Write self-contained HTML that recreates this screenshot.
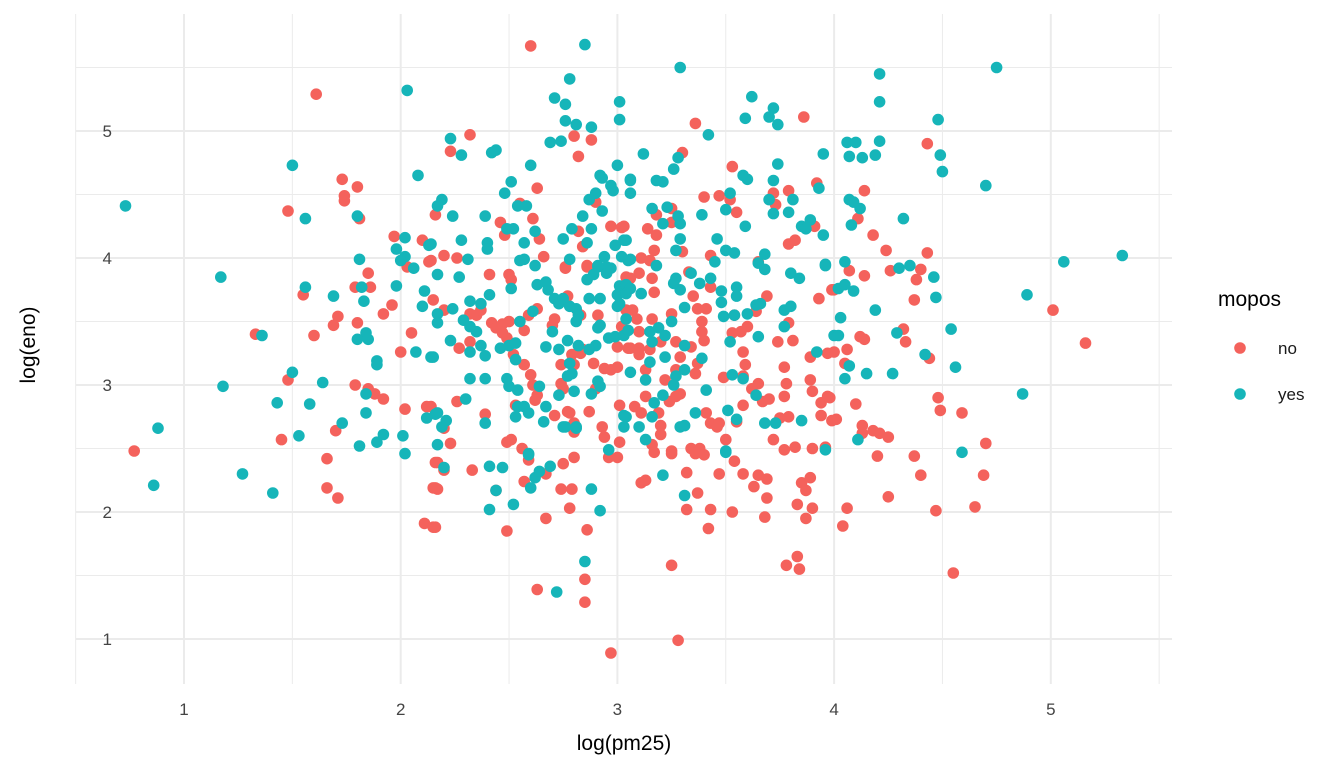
<!DOCTYPE html>
<html><head><meta charset="utf-8"><style>
html,body{margin:0;padding:0;background:#fff;}
svg{display:block;font-family:"Liberation Sans",Arial,sans-serif;}
</style></head><body>
<svg id="chart" width="1344" height="768" viewBox="0 0 1344 768" xmlns="http://www.w3.org/2000/svg">
<g id="grid"></g>
<g id="points"></g>
<g id="axes"></g>
<text x="624" y="750" font-size="21" text-anchor="middle" fill="#000">log(pm25)</text>
<text x="0" y="0" font-size="21" text-anchor="middle" fill="#000" transform="translate(35,345) rotate(-90)">log(eno)</text>
<g>
<text x="1218" y="306" font-size="21" fill="#000">mopos</text>
<circle cx="1240" cy="348" r="5.8" fill="#F4625C"/>
<text x="1278" y="354" font-size="17" fill="#1a1a1a">no</text>
<circle cx="1240" cy="394" r="5.8" fill="#16B5B9"/>
<text x="1278" y="400" font-size="17" fill="#1a1a1a">yes</text>
</g>
</svg>
<script>
const xTicks = [1,2,3,4,5];
const yTicks = [1,2,3,4,5];
const xTickLabels = ["1","2","3","4","5"];
const yTickLabels = ["1","2","3","4","5"];
const noX = [1.61,1.73,1.80,1.74,1.74,1.48,1.81,1.97,2.03,2.10,2.13,1.85,1.79,1.86,1.55,1.96,1.92,1.71,1.69,1.80,1.33,1.60,2.05,2.00,1.48,1.79,1.85,1.88,1.92,2.02,2.12,1.70,0.77,1.45,2.16,2.16,1.66,1.66,1.71,2.11,2.15,
2.60,2.80,2.88,2.82,2.32,2.23,2.63,2.16,2.55,2.90,2.61,2.46,2.48,2.64,2.20,2.26,2.14,2.66,2.82,2.84,2.97,3.02,2.76,2.86,
2.41,2.50,2.51,2.15,2.20,2.32,2.35,2.37,2.42,2.44,2.47,2.49,2.50,2.47,2.57,2.59,2.63,2.32,2.27,2.52,2.57,2.60,2.61,2.63,2.62,2.26,2.14,2.20,2.23,2.39,2.53,2.49,2.51,2.56,2.77,2.71,2.70,2.82,2.83,2.84,2.83,2.79,2.80,2.74,2.74,2.75,2.77,2.78,2.71,2.80,2.86,2.76,3.04,2.91,3.04,3.02,3.00,3.05,2.89,2.94,2.97,3.00,2.90,3.01,2.87,2.93,2.94,3.01,2.80,
2.17,2.20,2.15,2.17,2.33,2.44,2.16,2.49,2.57,2.67,2.59,2.75,2.80,2.74,2.79,2.78,2.67,2.86,2.96,3.00,2.85,2.85,2.63,2.97,
3.86,3.36,3.30,3.53,3.79,3.92,3.40,3.47,3.52,3.55,3.72,3.73,3.91,3.79,3.82,3.18,3.25,3.25,3.14,3.18,3.30,3.17,3.43,3.65,3.11,3.15,3.03,
3.10,3.16,3.06,3.17,3.33,3.43,3.35,3.37,3.41,3.07,3.09,3.16,3.25,3.39,3.39,3.40,3.64,3.69,3.54,3.60,3.57,3.53,3.10,3.20,3.27,3.10,3.06,3.15,3.10,3.29,3.34,3.37,3.36,3.13,3.22,3.27,3.58,3.59,3.58,3.49,3.74,3.81,3.77,3.78,3.79,3.93,3.99,3.89,3.97,3.89,3.90,3.94,3.97,3.94,3.99,3.62,3.65,3.67,3.70,3.77,3.58,3.29,3.27,3.24,3.13,3.08,3.11,3.19,3.20,3.20,3.41,3.43,3.47,3.46,3.55,3.75,3.79,3.50,3.72,3.16,3.25,3.34,3.38,3.77,3.82,3.90,3.96,
3.17,3.25,3.36,3.40,3.54,3.11,3.13,3.32,3.47,3.58,3.65,3.69,3.63,3.37,3.32,3.43,3.53,3.69,3.68,3.85,3.87,3.89,3.83,3.90,3.87,3.42,3.25,3.78,3.83,3.84,3.28,
4.43,4.14,4.11,4.18,4.24,4.43,4.07,4.14,4.26,4.40,4.38,4.00,4.37,5.01,4.12,4.14,4.32,4.33,5.16,4.00,4.06,4.44,
4.05,3.98,4.10,4.01,4.48,4.49,4.59,4.13,4.13,4.18,4.21,4.25,4.70,4.20,4.37,4.40,4.69,4.25,4.06,4.04,4.47,4.65,4.55];
const noY = [5.29,4.62,4.56,4.49,4.45,4.37,4.31,4.17,3.93,4.14,3.97,3.88,3.77,3.77,3.71,3.63,3.56,3.54,3.47,3.49,3.40,3.39,3.41,3.26,3.04,3.00,2.97,2.93,2.89,2.81,2.83,2.64,2.48,2.57,2.39,2.19,2.42,2.19,2.11,1.91,1.88,
5.67,4.96,4.93,4.80,4.97,4.84,4.55,4.34,4.43,4.44,4.31,4.28,4.18,4.15,4.02,4.00,3.98,4.01,4.21,4.09,4.25,4.24,3.93,3.94,
3.87,3.87,3.83,3.67,3.59,3.56,3.55,3.59,3.49,3.45,3.41,3.37,3.50,3.48,3.43,3.55,3.60,3.34,3.29,3.24,3.16,3.08,3.00,2.92,2.88,2.87,2.83,2.66,2.54,2.77,2.84,2.55,2.57,2.50,3.70,3.52,3.47,3.56,3.55,3.28,3.25,3.24,3.16,3.16,3.01,2.97,2.79,2.78,2.76,2.70,3.93,3.92,3.85,3.55,3.59,3.46,3.30,3.29,3.17,3.13,3.12,3.14,2.97,2.84,2.79,2.67,2.59,2.55,2.63,
2.39,2.33,2.19,2.18,2.33,2.17,1.88,1.85,2.24,2.30,2.41,2.38,2.43,2.18,2.18,2.03,1.95,1.86,2.43,2.43,1.47,1.29,1.39,0.89,
5.11,5.06,4.83,4.72,4.53,4.59,4.48,4.49,4.46,4.36,4.51,4.42,4.25,4.11,4.14,4.34,4.39,4.28,4.23,4.18,4.05,4.06,4.02,3.97,4.00,3.98,4.25,
3.88,3.84,3.84,3.73,3.89,3.77,3.70,3.60,3.60,3.59,3.52,3.52,3.56,3.50,3.42,3.35,3.58,3.70,3.55,3.46,3.42,3.41,3.42,3.34,3.34,3.29,3.29,3.28,3.24,3.22,3.30,3.17,3.09,3.12,3.04,3.12,3.26,3.16,3.07,3.06,3.34,3.35,3.14,3.01,3.49,3.68,3.75,3.22,3.25,3.04,2.95,2.86,2.91,2.76,2.72,2.97,3.01,2.87,2.89,2.91,2.84,2.93,2.91,2.87,2.91,2.83,2.78,2.78,2.68,2.61,2.78,2.70,2.70,2.67,2.71,2.74,2.75,2.57,2.57,2.53,2.48,2.50,2.50,2.49,2.51,2.50,2.51,
2.47,2.46,2.46,2.45,2.40,2.23,2.25,2.31,2.30,2.30,2.29,2.26,2.20,2.15,2.02,2.02,2.00,2.11,1.96,2.23,2.17,2.27,2.06,2.03,1.95,1.87,1.58,1.58,1.65,1.55,0.99,
4.90,4.53,4.31,4.18,4.06,4.04,3.90,3.86,3.90,3.91,3.83,3.75,3.67,3.59,3.38,3.36,3.44,3.34,3.33,3.26,3.28,3.21,
3.17,2.90,2.85,2.73,2.90,2.80,2.78,2.68,2.62,2.64,2.62,2.59,2.54,2.44,2.44,2.29,2.29,2.12,2.03,1.89,2.01,2.04,1.52];
const yesX = [0.73,2.03,1.50,2.08,1.56,1.80,2.02,1.98,2.02,2.00,2.06,2.13,1.81,1.17,1.82,1.98,2.11,1.56,1.69,1.83,2.10,1.36,1.84,1.80,1.85,2.07,2.14,1.89,1.89,1.50,1.18,1.64,1.84,2.12,2.16,1.43,1.58,1.84,1.73,0.88,0.86,1.53,1.92,1.89,1.81,2.01,2.02,1.27,1.41,
2.85,2.78,2.71,2.76,3.01,3.01,2.76,2.81,2.88,2.69,2.74,2.23,2.28,2.42,2.44,2.60,3.00,2.92,2.93,2.97,2.98,3.06,3.06,2.51,2.48,2.19,2.17,2.24,2.39,2.58,2.54,2.90,2.87,2.93,2.84,2.49,2.52,2.62,2.57,2.28,2.40,2.40,2.14,2.31,2.55,2.57,2.62,2.75,2.79,2.88,2.86,2.99,3.04,2.78,2.94,3.02,3.05,2.91,2.95,
2.17,2.27,2.51,2.41,2.32,2.37,2.24,2.17,2.17,2.29,2.32,2.35,2.55,2.61,2.23,2.32,2.37,2.39,2.46,2.50,2.53,2.53,2.15,2.32,2.39,2.49,2.50,2.54,2.64,2.30,2.17,2.21,2.19,2.17,2.39,2.54,2.57,2.53,2.59,2.67,2.66,2.59,2.63,2.67,2.68,2.71,2.73,2.75,2.78,2.81,2.82,2.81,2.70,2.67,2.73,2.77,2.82,2.78,2.79,2.77,2.73,2.80,2.76,2.81,2.86,2.89,2.91,2.95,2.97,3.01,3.04,2.87,2.92,3.00,3.01,3.00,2.92,2.91,3.04,2.96,2.99,3.03,2.90,2.87,2.91,2.92,2.88,3.03,3.03,2.81,2.75,2.96,
2.20,2.41,2.47,2.44,2.41,2.52,2.60,2.62,2.64,2.69,2.59,2.88,2.92,2.85,2.72,
3.29,3.62,3.72,3.70,3.74,3.59,3.42,3.12,3.28,3.26,3.06,3.18,3.21,3.58,3.60,3.72,3.93,3.95,3.74,3.52,3.50,3.39,3.70,3.72,3.81,3.79,3.85,3.89,3.87,3.95,3.59,3.16,3.23,3.21,3.28,3.29,3.29,3.27,3.46,3.50,3.54,3.45,3.68,3.96,3.06,3.03,3.18,
3.06,3.11,3.04,3.27,3.29,3.26,3.34,3.38,3.43,3.48,3.48,3.55,3.55,3.31,3.25,3.49,3.54,3.60,3.64,3.66,3.52,3.65,3.05,3.15,3.19,3.22,3.16,3.31,3.22,3.15,3.39,3.31,3.06,3.13,3.27,3.26,3.53,3.58,3.77,3.77,3.80,3.96,3.80,3.84,3.68,3.65,3.92,4.00,3.64,3.41,3.21,3.17,3.04,3.16,3.36,3.29,3.31,3.10,3.13,3.51,3.55,3.68,3.73,3.85,3.50,
3.50,3.21,3.31,3.96,
4.21,4.21,4.75,4.48,4.06,4.10,4.21,4.07,4.13,4.19,4.49,4.50,4.70,4.07,4.09,4.12,4.08,4.32,5.06,5.33,4.05,4.30,4.35,4.46,4.47,4.02,4.05,4.09,4.19,4.89,4.03,4.02,4.29,4.54,4.42,4.07,4.15,4.27,4.05,4.56,4.87,4.11,4.59];
const yesY = [4.41,5.32,4.73,4.65,4.31,4.33,4.16,4.07,4.01,3.98,3.92,4.10,3.99,3.85,3.77,3.78,3.74,3.77,3.70,3.66,3.62,3.39,3.41,3.36,3.36,3.26,3.22,3.19,3.16,3.10,2.99,3.02,2.93,2.74,2.77,2.86,2.85,2.78,2.70,2.66,2.21,2.60,2.61,2.55,2.52,2.60,2.46,2.30,2.15,
5.68,5.41,5.26,5.21,5.23,5.09,5.08,5.05,5.03,4.91,4.92,4.94,4.81,4.83,4.85,4.73,4.73,4.65,4.63,4.57,4.53,4.62,4.51,4.60,4.51,4.46,4.41,4.33,4.33,4.41,4.41,4.51,4.46,4.37,4.33,4.23,4.23,4.21,4.12,4.14,4.12,4.07,4.11,3.99,3.98,3.99,3.94,4.15,4.23,4.23,4.12,4.10,4.14,3.99,4.01,4.01,3.98,3.94,3.93,
3.87,3.85,3.76,3.71,3.66,3.64,3.60,3.56,3.49,3.51,3.46,3.42,3.50,3.58,3.35,3.26,3.31,3.23,3.29,3.31,3.33,3.20,3.22,3.05,3.05,3.05,2.99,2.96,2.99,2.89,2.78,2.72,2.67,2.53,2.70,2.83,2.83,2.75,2.78,2.83,2.71,2.46,3.79,3.81,3.75,3.68,3.64,3.68,3.62,3.60,3.55,3.50,3.42,3.30,3.28,3.35,3.31,3.17,3.09,3.07,2.92,2.95,2.67,2.67,3.83,3.87,3.93,3.88,3.92,3.78,3.79,3.68,3.68,3.71,3.64,3.62,3.47,3.45,3.52,3.37,3.38,3.39,3.31,3.28,3.03,2.99,2.93,2.76,2.67,2.66,2.67,2.49,
2.35,2.36,2.35,2.17,2.02,2.06,2.19,2.27,2.32,2.36,2.45,2.18,2.01,1.61,1.37,
5.50,5.27,5.18,5.11,5.05,5.10,4.97,4.82,4.79,4.70,4.61,4.61,4.60,4.65,4.62,4.61,4.55,4.82,4.74,4.51,4.38,4.34,4.46,4.35,4.46,4.36,4.25,4.30,4.23,4.18,4.25,4.39,4.40,4.27,4.33,4.27,4.15,4.06,4.15,4.06,4.04,3.97,4.03,3.95,3.99,4.14,3.94,
3.76,3.72,3.72,3.84,3.75,3.80,3.88,3.80,3.84,3.74,3.65,3.77,3.70,3.61,3.50,3.54,3.55,3.56,3.63,3.64,3.34,3.38,3.43,3.42,3.45,3.39,3.34,3.31,3.22,3.18,3.21,3.12,3.10,3.04,3.07,3.00,3.08,3.05,3.46,3.59,3.62,3.94,3.88,3.84,3.91,3.96,3.26,3.39,2.92,2.96,2.92,2.86,2.75,2.75,2.78,2.67,2.68,2.67,2.57,2.80,2.73,2.70,2.70,2.72,2.48,
2.47,2.29,2.13,2.49,
5.45,5.23,5.50,5.09,4.91,4.91,4.92,4.80,4.79,4.81,4.81,4.68,4.57,4.46,4.44,4.39,4.26,4.31,3.97,4.02,3.97,3.92,3.94,3.85,3.69,3.76,3.79,3.74,3.59,3.71,3.53,3.39,3.41,3.44,3.24,3.15,3.09,3.09,3.05,3.14,2.93,2.57,2.47];

const NS = "http://www.w3.org/2000/svg";
const PX0 = 76, PX1 = 1172, PY0 = 14, PY1 = 684;
function xScale(v){ return 184 + (v - 1) * 216.7; }
function yScale(v){ return 639 - (v - 1) * 127; }

const grid = document.getElementById('grid');
const axes = document.getElementById('axes');
const pts = document.getElementById('points');

function line(x1,y1,x2,y2,w,name){
  const l = document.createElementNS(NS,'line');
  l.setAttribute('x1',x1); l.setAttribute('y1',y1);
  l.setAttribute('x2',x2); l.setAttribute('y2',y2);
  l.setAttribute('stroke','#ebebeb'); l.setAttribute('stroke-width',w);
  
  
  grid.appendChild(l);
}
for (let v = 0.5; v <= 5.6; v += 1) {
  line(xScale(v), PY0, xScale(v), PY1, 1, 'x-minor-gridline');
  if (yScale(v) >= PY0 && yScale(v) <= PY1) line(PX0, yScale(v), PX1, yScale(v), 1, 'y-minor-gridline');
}
xTicks.forEach(v => line(xScale(v), PY0, xScale(v), PY1, 2, 'x-major-gridline'));
yTicks.forEach(v => line(PX0, yScale(v), PX1, yScale(v), 2, 'y-major-gridline'));

xTicks.forEach((v,i) => {
  const t = document.createElementNS(NS,'text');
  t.setAttribute('x', xScale(v)); t.setAttribute('y', 715);
  t.setAttribute('font-size','17'); t.setAttribute('fill','#444');
  t.setAttribute('text-anchor','middle');
  
  
  t.textContent = xTickLabels[i];
  axes.appendChild(t);
});
yTicks.forEach((v,i) => {
  const t = document.createElementNS(NS,'text');
  t.setAttribute('x', 112); t.setAttribute('y', yScale(v) + 6);
  t.setAttribute('font-size','17'); t.setAttribute('fill','#444');
  t.setAttribute('text-anchor','end');
  
  
  t.textContent = yTickLabels[i];
  axes.appendChild(t);
});

function drawPoints(xs, ys, color, name){
  for (let i = 0; i < xs.length; i++) {
    const c = document.createElementNS(NS,'circle');
    c.setAttribute('cx', xScale(xs[i]).toFixed(1));
    c.setAttribute('cy', yScale(ys[i]).toFixed(1));
    c.setAttribute('r', 5.8);
    c.setAttribute('fill', color);
    
    
    pts.appendChild(c);
  }
}
drawPoints(noX, noY, '#F4625C', 'point-no');
drawPoints(yesX, yesY, '#16B5B9', 'point-yes');
</script>
</body></html>
